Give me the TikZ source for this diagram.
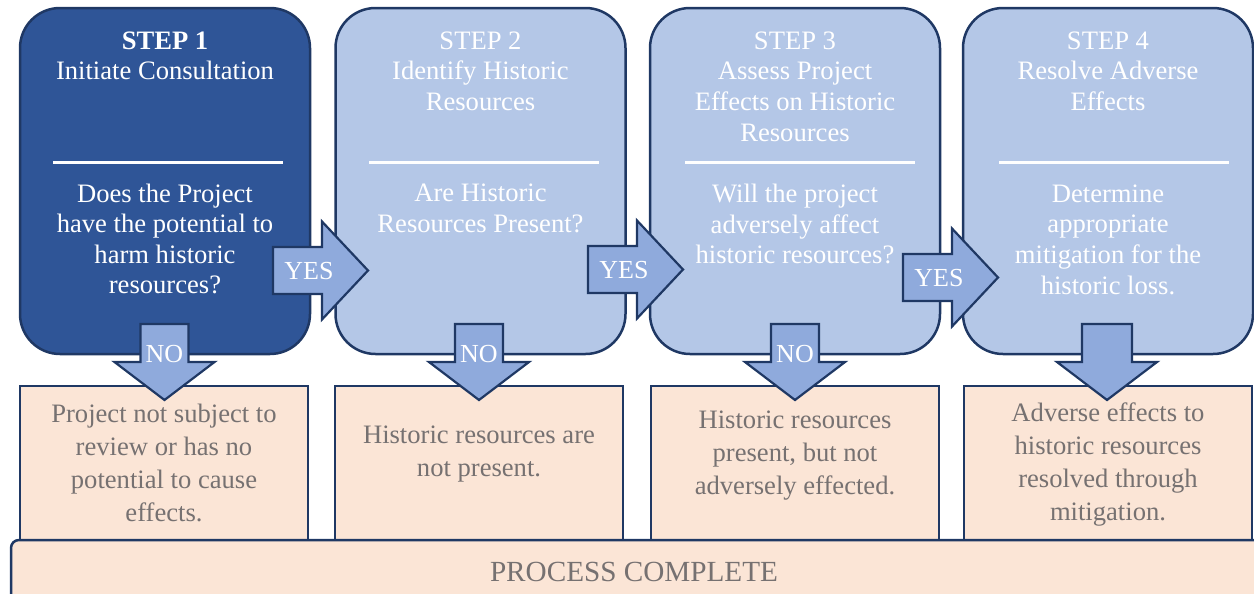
\documentclass[tikz,border=0pt]{standalone}
\usepackage{fontspec}
\setmainfont{Liberation Serif}
\definecolor{stepdark}{HTML}{2F5597}
\definecolor{steplight}{HTML}{B4C7E7}
\definecolor{arrowblue}{HTML}{8FAADC}
\definecolor{navy}{HTML}{1F3864}
\definecolor{peach}{HTML}{FBE5D6}
\definecolor{graytext}{HTML}{767171}
\begin{document}
\begin{tikzpicture}[x=0.5pt,y=-0.5pt,
  stepbox/.style={draw=navy, line width=1.25pt, rounded corners=20pt, minimum width=145pt, minimum height=173pt, inner sep=0pt},
  resbox/.style={draw=navy, line width=1.25pt, fill=peach, minimum width=144pt, minimum height=77pt, inner sep=0pt},
  steptext/.style={text=white, align=center, font=\fontsize{13.3}{15.3}\selectfont, inner sep=0pt},
  restext/.style={text=graytext, align=center, font=\fontsize{13.3}{16.5}\selectfont, inner sep=0pt},
  divider/.style={draw=white, line width=1.5pt},
  arrowshape/.style={draw=navy, line width=1.1pt, fill=arrowblue, line join=miter},
  arrowlabel/.style={text=white, font=\fontsize{13}{15}\selectfont, inner sep=0pt},
  yesarrow/.pic={
    \draw[arrowshape] (0,-23.5) -- (49,-23.5) -- (49,-49) -- (95,0) -- (49,49) -- (49,23.5) -- (0,23.5) -- cycle;
    \node[arrowlabel] (-lbl) at (36,1) {YES};
  },
  noarrow/.pic={
    \draw[arrowshape] (-24,0) -- (24,0) -- (24,38) -- (50,38) -- (0,76) -- (-50,38) -- (-24,38) -- (-24,0) -- cycle;
    \node[arrowlabel] (-lbl) at (0,30) {NO};
  },
  downarrow/.pic={
    \draw[arrowshape] (-25,0) -- (25,0) -- (25,38) -- (50,38) -- (0,76) -- (-50,38) -- (-25,38) -- (-25,0) -- cycle;
  }
]
\useasboundingbox (0,0) rectangle (1254,594);

% step boxes
\node[stepbox, fill=stepdark] (s1) at (165,181) {};
\node[stepbox, fill=steplight] (s2) at (480.5,181) {};
\node[stepbox, fill=steplight] (s3) at (795,181) {};
\node[stepbox, fill=steplight] (s4) at (1108,181) {};

% titles
\node[steptext] (t1) at (165,56) {\textbf{STEP 1}\\Initiate Consultation};
\node[steptext] (t2) at (480.5,71) {STEP 2\\Identify Historic\\Resources};
\node[steptext] (t3) at (795,86.5) {STEP 3\\Assess Project\\Effects on Historic\\Resources};
\node[steptext] (t4) at (1108,71) {STEP 4\\Resolve Adverse\\Effects};

% dividers
\draw[divider] (53,162) -- (283,162);
\draw[divider] (369,162) -- (599,162);
\draw[divider] (685,162) -- (915,162);
\draw[divider] (999,162) -- (1229,162);

% questions
\node[steptext] (q1) at (165,239) {Does the Project\\have the potential to\\harm historic\\resources?};
\node[steptext] (q2) at (480.5,208.5) {Are Historic\\Resources Present?};
\node[steptext] (q3) at (795,224) {Will the project\\adversely affect\\historic resources?};
\node[steptext] (q4) at (1108,239.5) {Determine\\appropriate\\mitigation for the\\historic loss.};

% result boxes
\node[resbox] (r1) at (164,463) {};
\node[resbox] (r2) at (479,463) {};
\node[resbox] (r3) at (795,463) {};
\node[resbox] (r4) at (1108,463) {};
\node[restext] (rt1) at (164,462.5) {Project not subject to\\review or has no\\potential to cause\\effects.};
\node[restext] (rt2) at (479,454.5) {Historic resources are\\not present.};
\node[restext] (rt3) at (795,456) {Historic resources\\present, but not\\adversely effected.};
\node[restext] (rt4) at (1108,464.5) {Adverse effects to\\historic resources\\resolved through\\mitigation.};

% process complete
\node[draw=navy, line width=1.25pt, fill=peach, rounded corners=4pt, minimum width=626pt, minimum height=36pt, inner sep=0pt] (pc) at (637,576) {};
\node[text=graytext, font=\fontsize{14.6}{17}\selectfont, inner sep=0pt] (pct) at (634,572) {PROCESS COMPLETE};

% arrows
\pic (y1) at (273,270.5) {yesarrow};
\pic (y2) at (588,269.5) {yesarrow};
\pic (y3) at (903,277.5) {yesarrow};
\pic (n1) at (164.5,324) {noarrow};
\pic (n2) at (479,324) {noarrow};
\pic (n3) at (795,324) {noarrow};
\pic (d4) at (1107,324) {downarrow};
\end{tikzpicture}
\end{document}
